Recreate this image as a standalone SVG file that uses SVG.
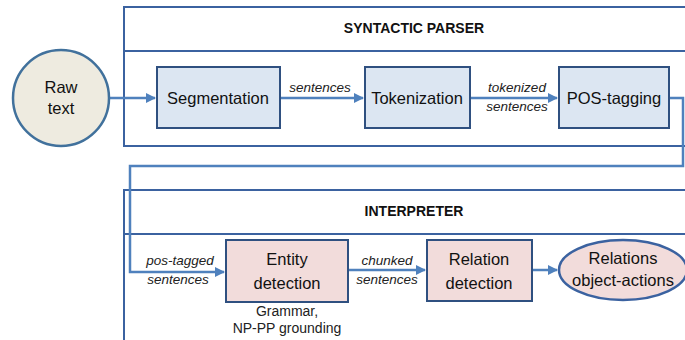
<svg xmlns="http://www.w3.org/2000/svg" width="685" height="340" viewBox="0 0 685 340">
<defs>
<style>
.cont{fill:#fff;stroke:#3B62A0;stroke-width:2}
.blue{fill:#DCE6F2;stroke:#2F5080;stroke-width:2}
.pink{fill:#F2DCDB;stroke:#2F5080;stroke-width:2}
.conn{fill:none;stroke:#4F81BD;stroke-width:2.5}
.t{font-family:"Liberation Sans",Arial,sans-serif;font-size:16.5px;fill:#111;text-anchor:middle}
.h{font-family:"Liberation Sans",Arial,sans-serif;font-size:14px;font-weight:bold;fill:#111;text-anchor:middle}
.l{font-family:"Liberation Sans",Arial,sans-serif;font-size:13.5px;font-style:italic;fill:#222;text-anchor:middle}
.s{font-family:"Liberation Sans",Arial,sans-serif;font-size:14px;fill:#222;text-anchor:middle}
</style>
<marker id="ah" viewBox="0 0 10 10" refX="9" refY="5" markerWidth="4" markerHeight="4" orient="auto" markerUnits="strokeWidth">
<path d="M0,0 L10,5 L0,10 z" fill="#4F81BD"/>
</marker>
</defs>
<g id="syntactic-parser">
<rect class="cont" x="124" y="7" width="575" height="139"/>
<line x1="124" y1="51" x2="690" y2="51" stroke="#3B62A0" stroke-width="2"/>
<text class="h" x="414" y="33">SYNTACTIC PARSER</text>
</g>
<g id="interpreter">
<rect class="cont" x="124" y="190" width="575" height="160"/>
<line x1="124" y1="234" x2="690" y2="234" stroke="#3B62A0" stroke-width="2"/>
<text class="h" x="414" y="216">INTERPRETER</text>
</g>
<g id="connectors">
<line class="conn" x1="110" y1="98" x2="155" y2="98" marker-end="url(#ah)"/>
<line class="conn" x1="280" y1="98" x2="363" y2="98" marker-end="url(#ah)"/>
<line class="conn" x1="470" y1="98" x2="557" y2="98" marker-end="url(#ah)"/>
<polyline class="conn" points="669,98 683,98 683,166 130,166 130,272 224,272" marker-end="url(#ah)"/>
<line class="conn" x1="348" y1="270" x2="425" y2="270" marker-end="url(#ah)"/>
<line class="conn" x1="532" y1="270" x2="557" y2="270" marker-end="url(#ah)"/>
</g>
<g id="raw-text">
<ellipse cx="61" cy="98" rx="48" ry="48" fill="#EEEBE0" stroke="#41719C" stroke-width="2.5"/>
<text class="t" x="61" y="93">Raw</text>
<text class="t" x="61" y="114">text</text>
</g>
<g id="segmentation">
<rect class="blue" x="157" y="67" width="123" height="61"/>
<text class="t" x="218" y="104">Segmentation</text>
</g>
<g id="tokenization">
<rect class="blue" x="365" y="67" width="105" height="61"/>
<text class="t" x="417" y="104">Tokenization</text>
</g>
<g id="pos-tagging">
<rect class="blue" x="559" y="67" width="110" height="61"/>
<text class="t" x="614" y="104">POS-tagging</text>
</g>
<g id="entity-detection">
<rect class="pink" x="226" y="240" width="122" height="62"/>
<text class="t" x="287" y="265">Entity</text>
<text class="t" x="287" y="289">detection</text>
<text class="s" x="287" y="316">Grammar,</text>
<text class="s" x="287" y="333">NP-PP grounding</text>
</g>
<g id="relation-detection">
<rect class="pink" x="427" y="240" width="105" height="61"/>
<text class="t" x="479" y="265">Relation</text>
<text class="t" x="479" y="289">detection</text>
</g>
<g id="relations">
<ellipse cx="623" cy="270" rx="64" ry="30" fill="#F2DCDB" stroke="#3B62A0" stroke-width="2.5"/>
<text class="t" x="623" y="264">Relations</text>
<text class="t" x="623" y="286">object-actions</text>
</g>
<g id="labels">
<text class="l" x="320" y="92">sentences</text>
<text class="l" x="517" y="92">tokenized</text>
<text class="l" x="517" y="111">sentences</text>
<text class="l" x="180" y="265">pos-tagged</text>
<text class="l" x="178" y="284">sentences</text>
<text class="l" x="387" y="265">chunked</text>
<text class="l" x="387" y="284">sentences</text>
</g>
</svg>
